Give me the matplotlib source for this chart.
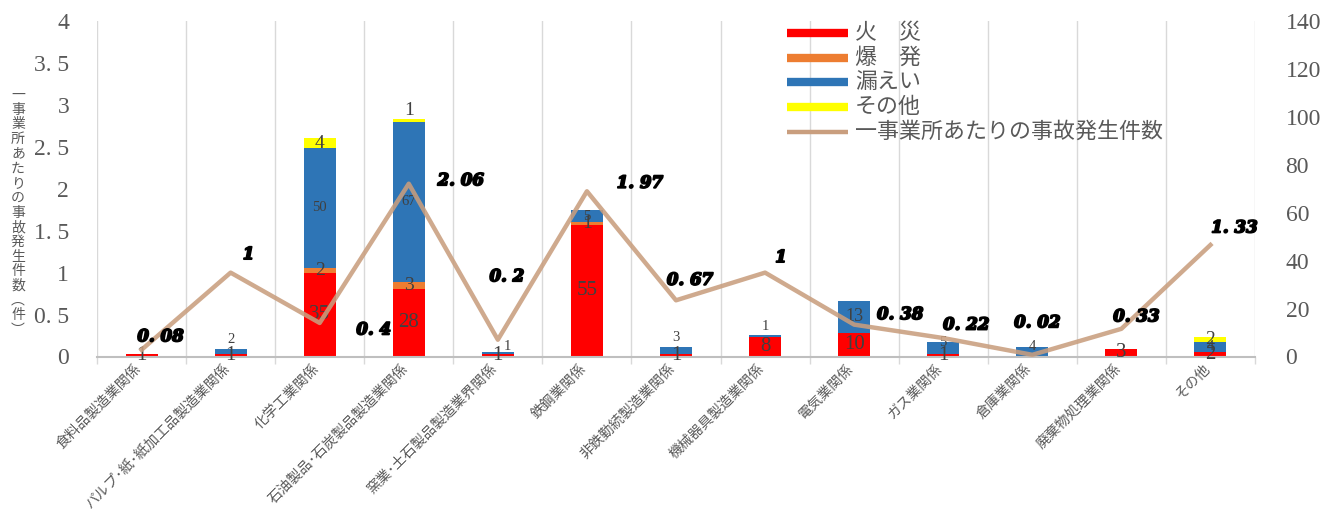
import matplotlib
matplotlib.use("Agg")
import matplotlib.pyplot as plt
import matplotlib.patheffects as pe
import numpy as np
from matplotlib.lines import Line2D

# ---- data ----
categories = [
    "食料品製造業関係", "パルプ･紙･紙加工品製造業関係", "化学工業関係",
    "石油製品･石炭製品製造業関係", "窯業･土石製品製造業界関係", "鉄鋼業関係",
    "非鉄勤続製造業関係", "機械器具製造業関係", "電気業関係", "ガス業関係",
    "倉庫業関係", "廃棄物処理業関係", "その他",
]
fire = [1, 1, 35, 28, 1, 55, 1, 8, 10, 1, 0, 3, 2]
explosion = [0, 0, 2, 3, 0, 1, 0, 0, 0, 0, 0, 0, 0]
leak = [0, 2, 50, 67, 1, 5, 3, 1, 13, 5, 4, 0, 4]
other = [0, 0, 4, 1, 0, 0, 0, 0, 0, 0, 0, 0, 2]
rate = [0.08, 1, 0.4, 2.06, 0.2, 1.97, 0.67, 1, 0.38, 0.22, 0.02, 0.33, 1.33]
rate_labels = ["0. 08", "1", "0. 4", "2. 06", "0. 2", "1. 97", "0. 67", "1",
               "0. 38", "0. 22", "0. 02", "0. 33", "1. 33"]
series_names = ["火\u3000災", "爆\u3000発", "漏えい", "その他", "一事業所あたりの事故発生件数"]
left_ticks = [0, 0.5, 1, 1.5, 2, 2.5, 3, 3.5, 4]
left_tick_labels = ["0", "0. 5", "1", "1. 5", "2", "2. 5", "3", "3. 5", "4"]
right_ticks = [0, 20, 40, 60, 80, 100, 120, 140]
y_title = "一事業所あたりの事故発生件数︵件︶"

# ---- style ----
C_FIRE, C_EXP, C_LEAK, C_OTHER = "#FF0000", "#ED7D31", "#2E75B6", "#FFFF00"
C_LINE = "#C99E7E"
C_TEXT = "#595959"
C_LABEL = "#404040"
SERIF = ["Liberation Serif", "DejaVu Serif"]
CJK = ["Noto Sans CJK JP", "DejaVu Sans"]

W, H = 1331, 513
fig = plt.figure(figsize=(W / 100, H / 100), dpi=100)
L, R, T, B = 97, 1255, 21, 356.5
ax = fig.add_axes([L / W, (H - B) / H, (R - L) / W, (B - T) / H])
ax2 = ax.twinx()

x = np.arange(len(categories))
bw = 0.36
stacks = [(fire, C_FIRE), (explosion, C_EXP), (leak, C_LEAK), (other, C_OTHER)]
bottom = np.zeros(len(categories))
bar_offsets = {
    (2, 1): (0, 12), (2, 4): (10, 6), (2, 6): (0, 13), (2, 7): (0, 10),
    (2, 9): (0, 6), (2, 10): (0, 5), (3, 3): (0, 10),
}
label_sizes = [15, 14, 10.5, 14]
for si, (vals, col) in enumerate(stacks):
    vals = np.array(vals, dtype=float)
    ax.bar(x, vals, bw, bottom=bottom, color=col, linewidth=0, zorder=2)
    for i, v in enumerate(vals):
        if v <= 0:
            continue
        dx, dy = bar_offsets.get((si, i), (0, 0))
        size = label_sizes[si]
        if si == 2 and 10 <= v < 20:
            size = 13
        ax.annotate(f"{int(v)}", (i, bottom[i] + v / 2), xytext=(dx, dy),
                    textcoords="offset pixels", ha="center", va="center",
                    fontsize=size, color=C_LABEL, family=SERIF, zorder=3)
    bottom += vals

ax.set_xlim(-0.5, len(categories) - 0.5)
ax.set_ylim(0, 140)
ax.set_yticks(right_ticks)
ax.yaxis.tick_right()
ax.tick_params(axis="y", length=0, pad=22, labelsize=17, labelcolor=C_TEXT)
for lab in ax.get_yticklabels():
    lab.set_family(SERIF)

ax.set_xticks(x)
ax.set_xticklabels([])
ax.set_xticks(np.arange(-0.5, len(categories), 1), minor=True)
ax.tick_params(axis="x", which="major", length=0)
ax.tick_params(axis="x", which="minor", length=5, color="#D9D9D9", width=1)
ax.grid(which="minor", axis="x", color="#D9D9D9", lw=1, zorder=0)
ax.set_axisbelow(True)
for s in ["top", "left", "right"]:
    ax.spines[s].set_visible(False)
ax.spines["bottom"].set_color("#BFBFBF")
ax.spines["bottom"].set_linewidth(1.5)

for i, name in enumerate(categories):
    ax.annotate(name, (i, 0), xytext=(-8, -5), textcoords="offset pixels",
                rotation=45, rotation_mode="anchor", ha="right", va="top",
                fontsize=10.2, color=C_TEXT, family=CJK, annotation_clip=False)

# rate line on the left axis
ax2.plot(x, rate, color=C_LINE, lw=3.2, alpha=0.88, zorder=4)
ax2.set_ylim(0, 4)
ax2.set_yticks(left_ticks)
ax2.set_yticklabels(left_tick_labels)
ax2.yaxis.tick_left()
ax2.tick_params(axis="y", length=0, pad=20, labelsize=17, labelcolor=C_TEXT)
for lab in ax2.get_yticklabels():
    lab.set_family(SERIF)
for s in ax2.spines.values():
    s.set_visible(False)
ax2.grid(False)

rate_offsets = [(19, 13), (18, 18), (54, -7), (52, 3), (9, 63), (53, 8), (14, 20),
                (16, 15), (46, 10), (23, 13), (5, 32), (15, 12), (24, 17)]
heavy = [pe.withStroke(linewidth=1.3, foreground="black")]
for i, (r, t) in enumerate(zip(rate, rate_labels)):
    dx, dy = rate_offsets[i]
    ax2.annotate(t, (i, r), xytext=(dx, dy), textcoords="offset pixels",
                 ha="center", va="center", fontsize=12, fontweight="bold",
                 fontstyle="italic", family="DejaVu Serif", color="black",
                 zorder=5, path_effects=heavy)

# vertical axis title, one character per row
n = len(y_title)
top_c, bot_c = 95, 330
for k, ch in enumerate(y_title):
    yy = top_c + (bot_c - top_c) * k / (n - 1)
    fig.text(18 / W, 1 - yy / H, ch, ha="center", va="center", fontsize=10,
             color=C_TEXT, family=CJK)

# legend
handles = [(C_FIRE, 6), (C_EXP, 6), (C_LEAK, 6), (C_OTHER, 6), (C_LINE, 3.2)]
for k, ((col, lw), name) in enumerate(zip(handles, series_names)):
    yy = 1 - (33 + 24.7 * k) / H
    fig.add_artist(Line2D([787 / W, 848 / W], [yy, yy], color=col, lw=lw,
                          solid_capstyle="butt", transform=fig.transFigure))
    fig.text(855 / W, yy, name, ha="left", va="center", fontsize=15.8,
             color=C_TEXT, family=CJK)

fig.savefig("out.png", dpi=100)
